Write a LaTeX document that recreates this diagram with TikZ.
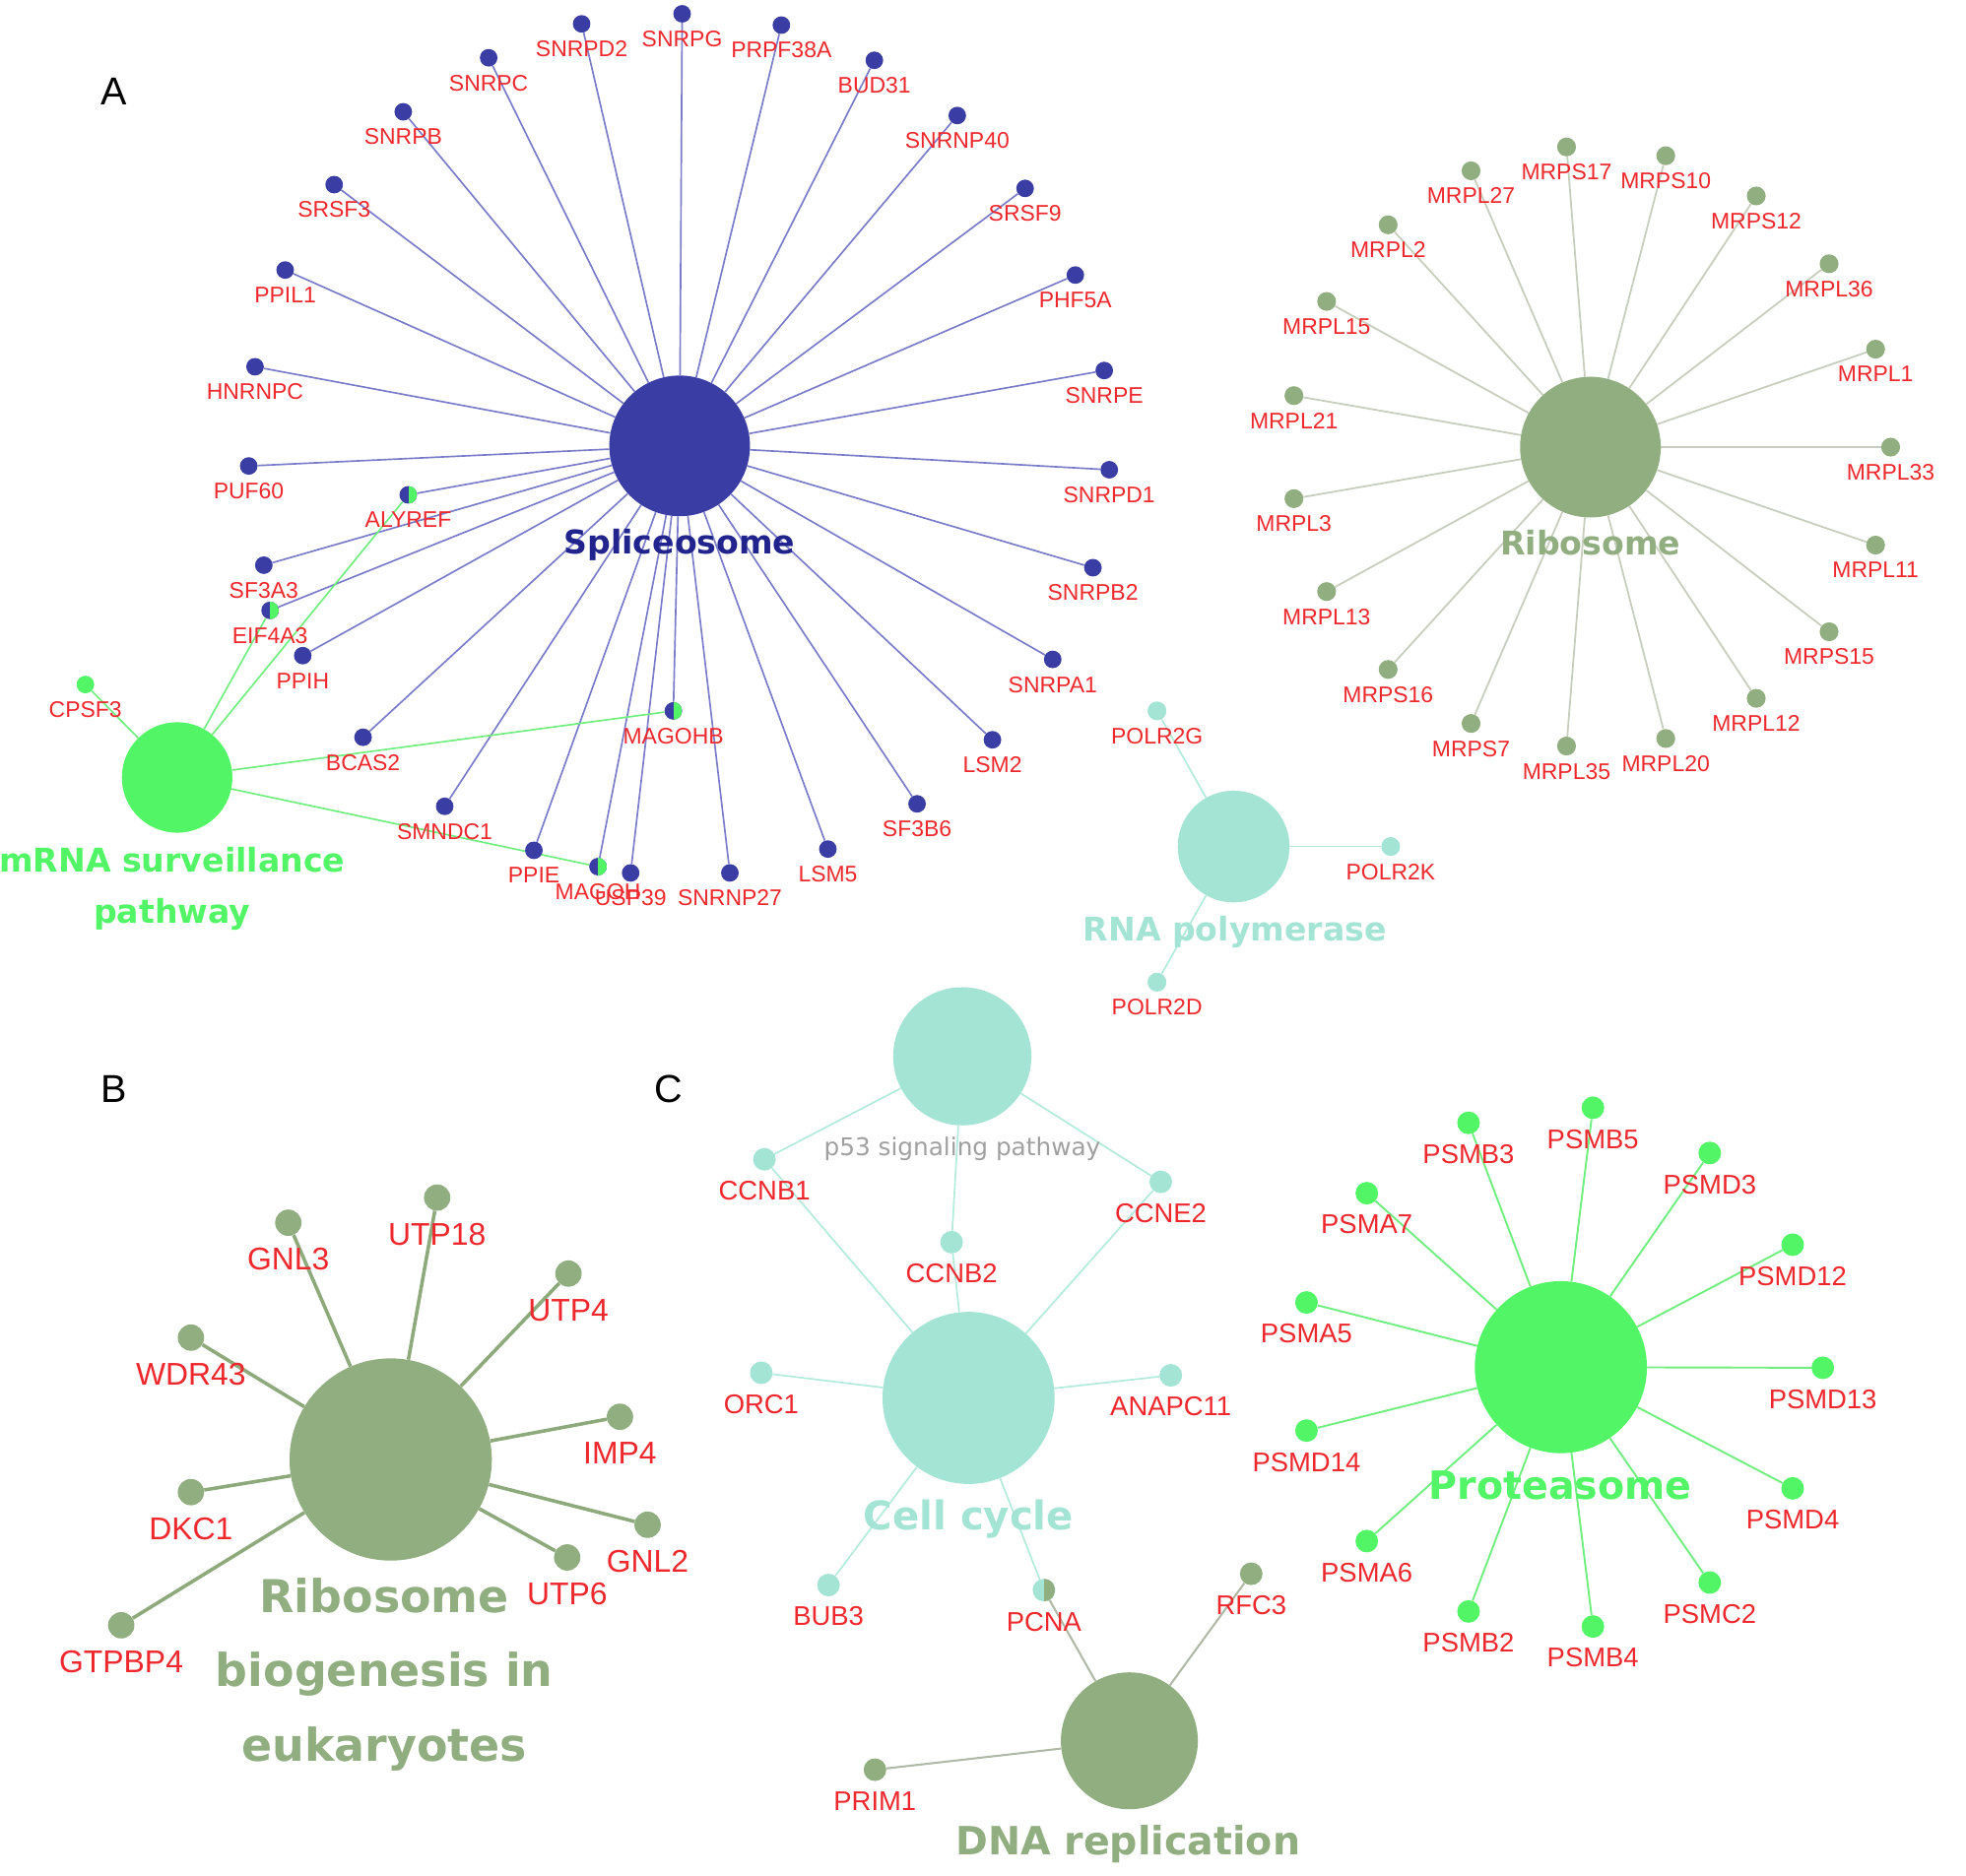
\documentclass[tikz,border=0pt]{standalone}
\usepackage{fontspec}
\setmainfont{Liberation Sans}
\newfontfamily\hubfont{DejaVu Sans}
\usetikzlibrary{backgrounds}

\definecolor{sblue}{RGB}{58,61,163}
\definecolor{sline}{RGB}{122,124,202}
\definecolor{stext}{RGB}{32,36,140}
\definecolor{mgreen}{RGB}{82,245,102}
\definecolor{mline}{RGB}{112,238,128}
\definecolor{olive}{RGB}{145,174,128}
\definecolor{oline}{RGB}{200,206,190}
\definecolor{bline}{RGB}{142,170,124}
\definecolor{tealc}{RGB}{164,228,212}
\definecolor{tline}{RGB}{178,234,220}
\definecolor{dline}{RGB}{176,184,166}
\definecolor{gred}{RGB}{238,40,45}
\definecolor{pgray}{RGB}{160,160,160}

\tikzset{
  leaf/.style={circle,inner sep=0pt,minimum size=#1,draw=none},
  split/.style 2 args={fill=#1,path picture={\fill[#2] (path picture bounding box.north) rectangle (path picture bounding box.south east);}},
  geneA/.style={text=gred,inner sep=0pt,font=\fontsize{18}{18}\selectfont},
  geneB/.style={text=gred,inner sep=0pt,font=\fontsize{25}{25}\selectfont},
  geneC/.style={text=gred,inner sep=0pt,font=\fontsize{21.5}{21.5}\selectfont},
  hubname/.style={anchor=base,inner sep=0pt,font=\hubfont\bfseries\fontsize{#1}{#1}\selectfont},
  panel/.style={inner sep=0pt,font=\fontsize{31}{31}\selectfont}
}

\begin{document}
\begin{tikzpicture}[x=1pt,y=-1pt]
\useasboundingbox (0,0) rectangle (1565,1493);

% panel letters
\node[panel] (pa) at (91,73) {A};
\node[panel] (pb) at (91,867) {B};
\node[panel] (pc) at (532,867) {C};

% A: spliceosome
\node[leaf=112pt,fill=sblue] (splice) at (541,355) {};
\node[hubname=26,text=stext] (splice-l) at (541,441) {Spliceosome};
\foreach \n/\x/\y in {SNRPG/543/11, PRPF38A/622/20, BUD31/696/48, SNRNP40/762/92,
  SRSF9/816/150, PHF5A/856/219, SNRPE/879/295, SNRPD1/883/374, SNRPB2/870/452,
  SNRPA1/838/525, LSM2/790/589, SF3B6/730/640, LSM5/659/676, SNRNP27/581/695,
  USP39/502/695, PPIE/425/677, SMNDC1/354/642, BCAS2/289/587, PPIH/241/522,
  SF3A3/210/450, PUF60/198/371, HNRNPC/203/292, PPIL1/227/215, SRSF3/266/147,
  SNRPB/321/89, SNRPC/389/46, SNRPD2/463/19}{
  \node[leaf=14pt,fill=sblue] (\n) at (\x,\y) {};
  \node[geneA] (\n-l) at (\x,\y+20) {\n};
}
\foreach \n/\x/\y in {ALYREF/325/394, EIF4A3/215/486, MAGOHB/536/566, MAGOH/476/690}{
  \node[leaf=14pt,split={sblue}{mgreen}] (\n) at (\x,\y) {};
  \node[geneA] (\n-l) at (\x,\y+20) {\n};
}

% A: mRNA surveillance pathway
\node[leaf=88pt,fill=mgreen] (mrna) at (141,619) {};
\node[anchor=base,inner sep=0pt,align=center,text=mgreen,
  font=\hubfont\bfseries\fontsize{26}{41}\selectfont] (mrna-l) at (137,735) {mRNA surveillance\\pathway};
\node[leaf=14pt,fill=mgreen] (CPSF3) at (68,545) {};
\node[geneA] (CPSF3-l) at (68,565) {CPSF3};

% A: ribosome
\node[leaf=112pt,fill=olive] (ribo) at (1266,356) {};
\node[hubname=26,text=olive] (ribo-l) at (1266,442) {Ribosome};
\foreach \n/\x/\y in {MRPS17/1247/117, MRPS10/1326/124, MRPS12/1398/156, MRPL36/1456/210,
  MRPL1/1493/278, MRPL33/1505/356, MRPL11/1493/434, MRPS15/1456/503, MRPL12/1398/556,
  MRPL20/1326/588, MRPL35/1247/594, MRPS7/1171/576, MRPS16/1105/533, MRPL13/1056/471,
  MRPL3/1030/397, MRPL21/1030/315, MRPL15/1056/240, MRPL2/1105/179, MRPL27/1171/136}{
  \node[leaf=15pt,fill=olive] (\n) at (\x,\y) {};
  \node[geneA] (\n-l) at (\x,\y+20) {\n};
}

% A: RNA polymerase
\node[leaf=89pt,fill=tealc] (rnapol) at (982,674) {};
\node[hubname=26,text=tealc] (rnapol-l) at (983,749) {RNA polymerase};
\foreach \n/\x/\y in {POLR2G/921/566, POLR2K/1107/674, POLR2D/921/782}{
  \node[leaf=15pt,fill=tealc] (\n) at (\x,\y) {};
  \node[geneA] (\n-l) at (\x,\y+20) {\n};
}

% B: ribosome biogenesis
\node[leaf=161pt,fill=olive] (bio) at (311,1162) {};
\node[anchor=base,inner sep=0pt,align=center,text=olive,
  font=\hubfont\bfseries\fontsize{36}{59}\selectfont] (bio-l) at (306,1402) {Ribosome\\biogenesis in\\eukaryotes};
\foreach \n/\x/\y in {GNL3/229.5/973.5, UTP18/348/953.5, UTP4/452.5/1014, WDR43/152/1065,
  IMP4/493.5/1128, DKC1/152/1188, GNL2/515.5/1214, UTP6/451.5/1240, GTPBP4/96.5/1294}{
  \node[leaf=21pt,fill=olive] (\n) at (\x,\y) {};
  \node[geneB] (\n-l) at (\x,\y+29) {\n};
}

% C: p53, cell cycle, DNA replication
\node[leaf=110pt,fill=tealc] (p53) at (766,841) {};
\node[anchor=base,inner sep=0pt,text=pgray,font=\hubfont\fontsize{19.4}{19.4}\selectfont] (p53-l) at (766,920) {p53 signaling pathway};
\node[leaf=137pt,fill=tealc] (cycle) at (771,1113) {};
\node[hubname=31.5,text=tealc] (cycle-l) at (771,1218) {Cell cycle};
\node[leaf=109pt,fill=olive] (dna) at (899,1386) {};
\node[hubname=31,text=olive] (dna-l) at (898,1477) {DNA replication};
\foreach \n/\x/\y in {CCNB1/608.5/923, CCNB2/757.5/989, CCNE2/924/941, ORC1/606/1093,
  ANAPC11/932/1095, BUB3/659.5/1262}{
  \node[leaf=18pt,fill=tealc] (\n) at (\x,\y) {};
  \node[geneC] (\n-l) at (\x,\y+25) {\n};
}
\node[leaf=18pt,split={tealc}{olive}] (PCNA) at (831,1266) {};
\node[geneC] (PCNA-l) at (831,1291) {PCNA};
\foreach \n/\x/\y in {RFC3/996/1253, PRIM1/696.5/1409}{
  \node[leaf=18pt,fill=olive] (\n) at (\x,\y) {};
  \node[geneC] (\n-l) at (\x,\y+25) {\n};
}

% C: proteasome
\node[leaf=137pt,fill=mgreen] (prot) at (1242.5,1088.5) {};
\node[hubname=31,text=mgreen] (prot-l) at (1242,1194) {Proteasome};
\foreach \n/\x/\y in {PSMB5/1268/882, PSMD3/1361/918, PSMD12/1427/991, PSMD13/1451/1089,
  PSMD4/1427/1185, PSMC2/1361/1260, PSMB4/1268/1295, PSMB2/1169/1283, PSMA6/1088/1227,
  PSMD14/1040/1139, PSMA5/1040/1037, PSMA7/1088/950, PSMB3/1169/894}{
  \node[leaf=18pt,fill=mgreen] (\n) at (\x,\y) {};
  \node[geneC] (\n-l) at (\x,\y+25) {\n};
}

\begin{pgfonlayer}{background}
\fill[white] (0,0) rectangle (1565,1493);
\foreach \n in {SNRPG,PRPF38A,BUD31,SNRNP40,SRSF9,PHF5A,SNRPE,SNRPD1,SNRPB2,SNRPA1,
  LSM2,SF3B6,LSM5,SNRNP27,USP39,PPIE,SMNDC1,BCAS2,PPIH,SF3A3,PUF60,HNRNPC,PPIL1,
  SRSF3,SNRPB,SNRPC,SNRPD2,ALYREF,EIF4A3,MAGOHB,MAGOH}
  \draw[sline,line width=1.3pt] (splice) -- (\n);
\foreach \n in {CPSF3,ALYREF,EIF4A3,MAGOHB,MAGOH}
  \draw[mline,line width=1.3pt] (mrna) -- (\n);
\foreach \n in {MRPS17,MRPS10,MRPS12,MRPL36,MRPL1,MRPL33,MRPL11,MRPS15,MRPL12,
  MRPL20,MRPL35,MRPS7,MRPS16,MRPL13,MRPL3,MRPL21,MRPL15,MRPL2,MRPL27}
  \draw[oline,line width=1.4pt] (ribo) -- (\n);
\foreach \n in {POLR2G,POLR2K,POLR2D}
  \draw[tline,line width=1.3pt] (rnapol) -- (\n);
\foreach \n in {GNL3,UTP18,UTP4,WDR43,IMP4,DKC1,GNL2,UTP6,GTPBP4}
  \draw[bline,line width=2.8pt] (bio) -- (\n);
\foreach \n in {CCNB1,CCNB2,CCNE2}
  \draw[tline,line width=1.3pt] (p53) -- (\n);
\foreach \n in {CCNB1,CCNB2,CCNE2,ORC1,ANAPC11,BUB3,PCNA}
  \draw[tline,line width=1.3pt] (cycle) -- (\n);
\foreach \n in {PCNA,RFC3,PRIM1}
  \draw[dline,line width=1.6pt] (dna) -- (\n);
\foreach \n in {PSMB5,PSMD3,PSMD12,PSMD13,PSMD4,PSMC2,PSMB4,PSMB2,PSMA6,PSMD14,
  PSMA5,PSMA7,PSMB3}
  \draw[mline,line width=1.5pt] (prot) -- (\n);
\end{pgfonlayer}
\end{tikzpicture}
\end{document}
